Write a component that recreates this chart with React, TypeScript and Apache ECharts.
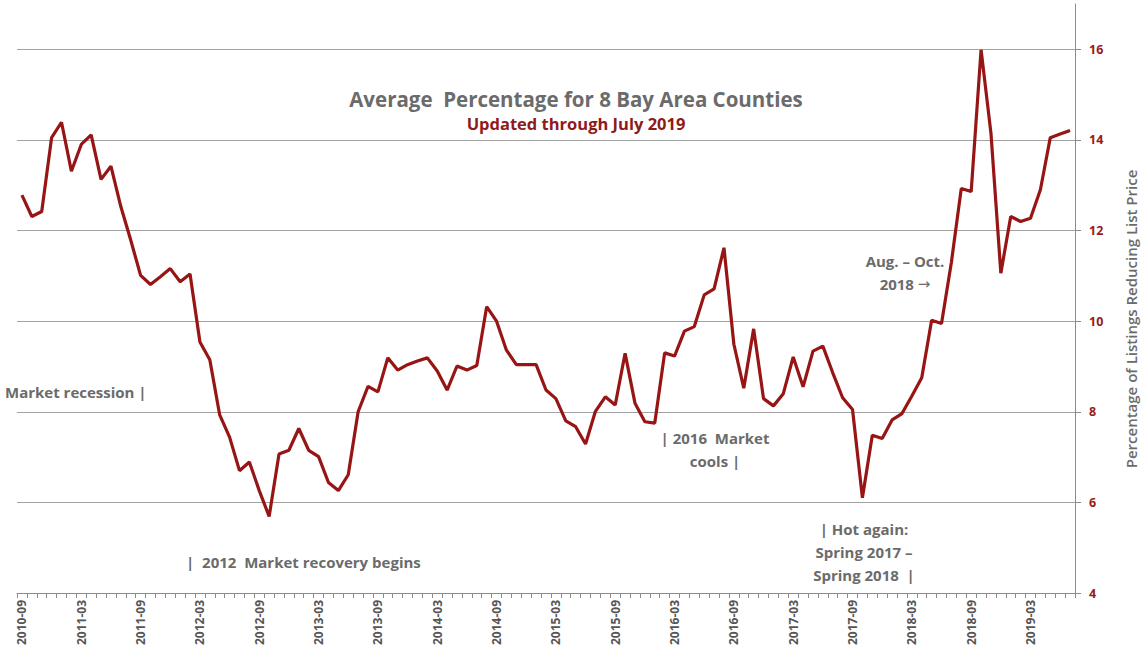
import React, { useEffect, useRef } from "react";
import * as echarts from "echarts";

const START_YEAR = 2010;
const START_MONTH = 9;
const MONTH_COUNT = 107;

const months: string[] = [];
for (let i = 0; i < MONTH_COUNT; i++) {
  const m = START_MONTH - 1 + i;
  const y = START_YEAR + Math.floor(m / 12);
  const mm = (m % 12) + 1;
  months.push(`${y}-${mm < 10 ? "0" + mm : mm}`);
}

const pctReducing: number[] = [
  12.78, 12.31, 12.42, 14.05, 14.39, 13.31, 13.9, 14.11, 13.13, 13.42,
  12.53, 11.79, 11.01, 10.81, 10.98, 11.16, 10.87, 11.04, 9.54, 9.15,
  7.93, 7.44, 6.7, 6.89, 6.26, 5.69, 7.07, 7.15, 7.63, 7.15,
  7.01, 6.44, 6.26, 6.61, 8.0, 8.56, 8.44, 9.19, 8.92, 9.04,
  9.12, 9.19, 8.9, 8.48, 9.01, 8.92, 9.02, 10.32, 10.0, 9.36,
  9.04, 9.04, 9.04, 8.48, 8.29, 7.8, 7.67, 7.29, 8.01, 8.33,
  8.15, 9.29, 8.19, 7.78, 7.75, 9.3, 9.23, 9.78, 9.88, 10.58,
  10.71, 11.62, 9.49, 8.52, 9.83, 8.29, 8.13, 8.4, 9.21, 8.55,
  9.34, 9.45, 8.86, 8.31, 8.05, 6.1, 7.48, 7.41, 7.82, 7.96,
  8.35, 8.75, 10.02, 9.95, 11.3, 12.93, 12.86, 15.99, 14.15, 11.06,
  12.31, 12.2, 12.27, 12.9, 14.05, 14.13, 14.21,
];

const TITLE = "Average  Percentage for 8 Bay Area Counties";
const SUBTITLE = "Updated through July 2019";
const Y_NAME = "Percentage of Listings Reducing List Price";

const LINE_COLOR = "#971515";
const TEXT_GRAY = "#6b6b6b";
const FONT = "'Open Sans', 'Noto Sans', sans-serif";

export default function App() {
  const ref = useRef<HTMLDivElement>(null);

  useEffect(() => {
    if (!ref.current) return;
    const chart = echarts.init(ref.current, undefined, { renderer: "svg" });

    const annText = (x: number, y: number, text: string, align = "left") => ({
      type: "text",
      x,
      y,
      style: {
        text,
        fill: TEXT_GRAY,
        font: `700 15px ${FONT}`,
        textAlign: align,
        textVerticalAlign: "middle",
        lineHeight: 23,
        rich: {
          arr: {
            fontFamily: "'DejaVu Sans', sans-serif",
            fontSize: 15,
            fontWeight: 400,
            color: "#555555",
            lineHeight: 23,
          },
        },
      },
    });

    chart.setOption({
      animation: false,
      backgroundColor: "#ffffff",
      title: {
        text: TITLE,
        subtext: SUBTITLE,
        left: 571,
        top: 83,
        textAlign: "center",
        itemGap: 6,
        textStyle: {
          color: TEXT_GRAY,
          fontFamily: FONT,
          fontWeight: 700,
          fontSize: 20.5,
        },
        subtextStyle: {
          color: "#8f1a1a",
          fontFamily: FONT,
          fontWeight: 700,
          fontSize: 16.5,
        },
      },
      grid: { left: 17, right: 73, top: 4, bottom: 66, containLabel: false },
      xAxis: {
        type: "category",
        data: months,
        boundaryGap: true,
        axisLine: { show: true, lineStyle: { color: "#8c8c8c", width: 1 } },
        axisTick: {
          show: true,
          interval: 0,
          length: 5,
          lineStyle: { color: "#8c8c8c" },
        },
        axisLabel: {
          interval: 5,
          rotate: 90,
          margin: 7,
          color: "#555555",
          fontFamily: FONT,
          fontWeight: 700,
          fontSize: 12,
        },
        splitLine: { show: false },
      },
      yAxis: {
        type: "value",
        position: "right",
        min: 4,
        max: 17,
        interval: 2,
        axisLine: { show: true, lineStyle: { color: "#8c8c8c", width: 1 } },
        axisTick: { show: true, length: 6, lineStyle: { color: "#8c8c8c" } },
        axisLabel: {
          showMaxLabel: false,
          margin: 14,
          color: "#9a1b1b",
          fontFamily: FONT,
          fontWeight: 700,
          fontSize: 12.5,
        },
        splitLine: {
          show: true,
          showMaxLine: false,
          lineStyle: { color: "#a3a3a3", width: 1 },
        },
      },
      graphic: [
        annText(5, 392, "Market recession |"),
        annText(186, 562, "|  2012  Market recovery begins"),
        annText(715, 449, "| 2016  Market\ncools |", "center"),
        annText(905, 272, "Aug. \u2013 Oct.\n2018 {arr|\u2192}", "center"),
        annText(864, 552, "| Hot again:\nSpring 2017 \u2013\nSpring 2018  |", "center"),
        {
          type: "text",
          x: 1131,
          y: 319,
          rotation: Math.PI / 2,
          style: {
            text: Y_NAME,
            fill: TEXT_GRAY,
            font: `600 15px ${FONT}`,
            textAlign: "center",
            textVerticalAlign: "middle",
          },
        },
      ],
      series: [
        {
          type: "line",
          data: pctReducing,
          symbol: "none",
          smooth: false,
          lineStyle: { color: LINE_COLOR, width: 3.2 },
          itemStyle: { color: LINE_COLOR },
        },
      ],
    });

    return () => chart.dispose();
  }, []);

  return (
    <div
      ref={ref}
      style={{ position: "absolute", left: 0, top: 0, width: 1148, height: 659 }}
    />
  );
}
